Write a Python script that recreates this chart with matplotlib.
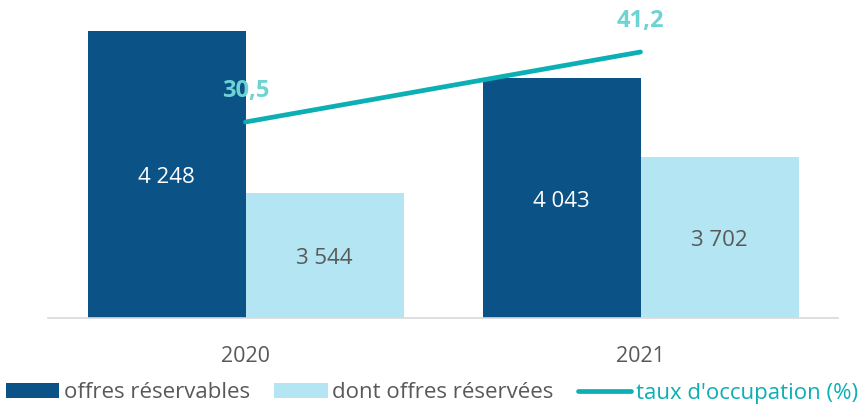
import matplotlib
matplotlib.use("Agg")
import matplotlib.pyplot as plt
import numpy as np
from matplotlib.patches import Patch
from matplotlib.lines import Line2D

plt.rcParams['font.family'] = ['Open Sans', 'DejaVu Sans']

years = ["2020", "2021"]
offres_reservables = [4248, 4043]
offres_reservees = [3544, 3702]
taux_occupation = [30.5, 41.2]
lbl_reservables = ["4 248", "4 043"]
lbl_reservees = ["3 544", "3 702"]
lbl_taux = ["30,5", "41,2"]

dark = "#0B5287"
light = "#B3E5F3"
teal = "#0BAFB4"
teal_lbl = "#6DD3D3"
grey = "#595959"

fig = plt.figure(figsize=(8.64, 4.07), dpi=100)
ax = fig.add_axes([48/864, 1-318/407, (838-48)/864, (318-10)/407])
x = np.arange(len(years))
w = 0.4
ax.bar(x - w/2, offres_reservables, w, color=dark)
ax.bar(x + w/2, offres_reservees, w, color=light)
ax.set_ylim(3000, 4340)
ax.set_xlim(-0.5, 1.5)
for s in ["top", "right", "left"]:
    ax.spines[s].set_visible(False)
ax.spines["bottom"].set_color("#D9D9D9")
ax.spines["bottom"].set_linewidth(1.2)
ax.set_yticks([])
ax.set_xticks(x)
ax.set_xticklabels(years, fontsize=15.5, color=grey)
ax.tick_params(axis="x", length=0, pad=20)

for i in range(len(years)):
    ax.text(x[i] - w/2, (3000 + offres_reservables[i]) / 2 - 14, lbl_reservables[i],
            ha="center", va="center", color="white", fontsize=16)
    ax.text(x[i] + w/2, (3000 + offres_reservees[i]) / 2 - 14, lbl_reservees[i],
            ha="center", va="center", color=grey, fontsize=16)

ax2 = ax.twinx()
ax2.set_ylim(0.54, 47.62)
ax2.plot(x, taux_occupation, color=teal, lw=3.4, solid_capstyle="round")
ax2.axis("off")
for i in range(len(years)):
    ax2.annotate(lbl_taux[i], (x[i], taux_occupation[i]), xytext=(0, 31),
                 textcoords="offset pixels",
                 ha="center", va="center", color=teal_lbl, fontsize=17, fontweight="bold")

handles = [Patch(facecolor=dark), Patch(facecolor=light),
           Line2D([0], [0], color=teal, lw=3.4, solid_capstyle="round")]
labels = ["offres réservables", "dont offres réservées", "taux d'occupation (%)"]
leg = fig.legend(handles, labels, loc="center", bbox_to_anchor=(0.5, 1-393/407), ncol=3,
                 frameon=False, fontsize=16, handlelength=2.4, handleheight=0.65,
                 handletextpad=0.2, columnspacing=1.1, borderaxespad=0)
for t, c in zip(leg.get_texts(), [grey, grey, teal]):
    t.set_color(c)

fig.savefig("out.png", dpi=100)
